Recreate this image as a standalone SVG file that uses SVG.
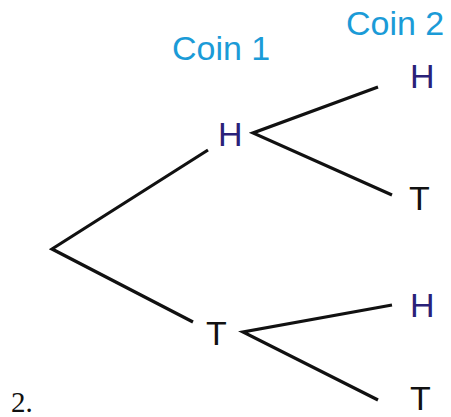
<svg xmlns="http://www.w3.org/2000/svg" width="451" height="417" viewBox="0 0 451 417">
<style>
.lbl{font-family:"Liberation Sans",Arial,sans-serif;font-size:34px}
.coin{fill:#1b9bd7}
.h{fill:#2a2179}
.t{fill:#111}
.edge{stroke:#111;stroke-width:3.2;fill:none;stroke-linecap:butt;stroke-linejoin:miter}
</style>
<rect width="451" height="417" fill="#fff"/>
<g id="connectors">
<polyline class="edge" points="208,150 52,249 193,322"/>
<polyline class="edge" points="378,87 253,133 392,195"/>
<polyline class="edge" points="392,305 243,332 378,400"/>
</g>
<g id="coin1"><text class="lbl coin" x="172" y="60">Coin 1</text></g>
<g id="coin2"><text class="lbl coin" x="346" y="35">Coin 2</text></g>
<g id="h1"><text class="lbl h" x="218" y="146">H</text></g>
<g id="t1"><text class="lbl t" x="206" y="345">T</text></g>
<g id="hh"><text class="lbl h" x="410" y="88">H</text></g>
<g id="ht"><text class="lbl t" x="409" y="210">T</text></g>
<g id="th"><text class="lbl h" x="410" y="317">H</text></g>
<g id="tt"><text class="lbl t" x="410" y="410">T</text></g>
<g id="num"><text x="11" y="412" font-family="'Liberation Serif','Times New Roman',serif" font-size="29" fill="#111">2.</text></g>
</svg>
